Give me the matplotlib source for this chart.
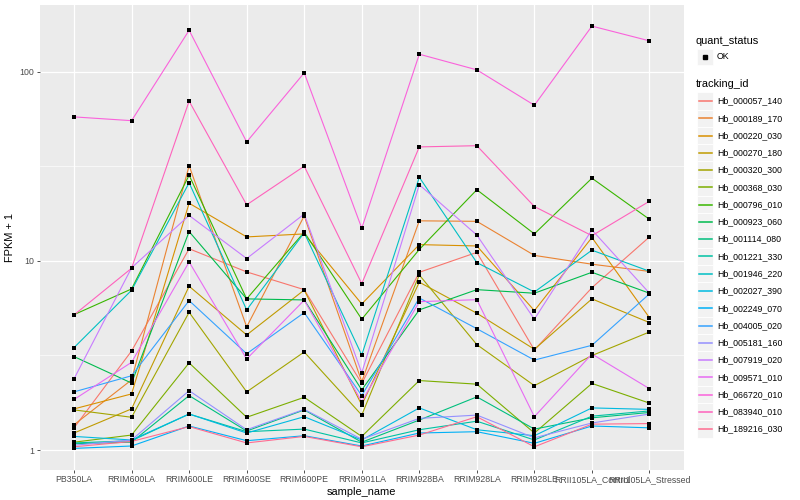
import numpy as np
import matplotlib
matplotlib.use("Agg")
import matplotlib.pyplot as plt
from matplotlib.patches import Rectangle
from matplotlib.ticker import NullFormatter

plt.rcParams["font.family"] = ["Liberation Sans", "DejaVu Sans"]

# ---- data: FPKM + 1 per sample, one list per tracking id ----
samples = ["PB350LA", "RRIM600LA", "RRIM600LE", "RRIM600SE", "RRIM600PE",
           "RRIM901LA", "RRIM928BA", "RRIM928LA", "RRIM928LE",
           "RRII105LA_Control", "RRII105LA_Stressed"]

tracking_ids = ["Hb_000057_140", "Hb_000189_170", "Hb_000220_030", "Hb_000270_180",
                "Hb_000320_300", "Hb_000368_030", "Hb_000796_010", "Hb_000923_060",
                "Hb_001114_080", "Hb_001221_330", "Hb_001946_220", "Hb_002027_390",
                "Hb_002249_070", "Hb_004005_020", "Hb_005181_160", "Hb_007919_020",
                "Hb_009571_010", "Hb_066720_010", "Hb_083940_010", "Hb_189216_030"]

hb_000057_140 = [1.31, 3.34, 11.6, 8.75, 7.05, 2.25, 8.71, 11.1, 3.38, 7.22, 13.4]
hb_000189_170 = [1.36, 2.35, 31.9, 4.48, 17.3, 2.30, 16.3, 16.2, 10.7, 9.61, 8.8]
hb_000220_030 = [1.65, 1.98, 20.2, 13.4, 13.9, 5.92, 12.2, 12.0, 5.46, 13.3, 5.01]
hb_000270_180 = [1.23, 1.65, 7.35, 4.06, 7.02, 1.73, 7.72, 5.29, 3.41, 6.30, 4.72]
hb_000320_300 = [1.63, 1.49, 5.35, 2.03, 3.30, 1.53, 8.43, 3.61, 2.19, 3.16, 4.21]
hb_000368_030 = [1.10, 1.20, 2.89, 1.49, 1.90, 1.18, 2.33, 2.23, 1.23, 2.25, 1.77]
hb_000796_010 = [5.2, 7.11, 28.4, 6.30, 14.2, 4.92, 11.5, 23.8, 13.9, 27.4, 16.6]
hb_000923_060 = [3.12, 2.26, 14.3, 6.3, 6.22, 2.08, 5.51, 7.05, 6.75, 8.71, 6.75]
hb_001114_080 = [1.08, 1.10, 1.94, 1.26, 1.63, 1.10, 1.44, 1.91, 1.29, 1.48, 1.58]
hb_001221_330 = [1.09, 1.12, 1.55, 1.25, 1.29, 1.09, 1.28, 1.42, 1.13, 1.51, 1.61]
hb_001946_220 = [3.48, 7.0, 25.9, 5.51, 14.1, 3.18, 27.7, 9.80, 6.85, 11.4, 8.82]
hb_002027_390 = [1.18, 1.13, 1.55, 1.23, 1.50, 1.13, 1.67, 1.28, 1.19, 1.67, 1.64]
hb_002249_070 = [1.02, 1.05, 1.34, 1.12, 1.19, 1.05, 1.23, 1.25, 1.085, 1.34, 1.31]
hb_004005_020 = [2.03, 2.47, 6.17, 3.23, 5.33, 1.94, 6.37, 4.38, 2.99, 3.58, 6.7]
hb_005181_160 = [1.06, 1.13, 2.06, 1.28, 1.64, 1.14, 1.47, 1.53, 1.16, 1.39, 1.55]
hb_007919_020 = [2.38, 9.2, 17.4, 10.3, 17.7, 2.56, 25.3, 13.7, 4.92, 14.6, 6.75]
hb_009571_010 = [1.85, 2.91, 9.88, 3.03, 6.2, 1.80, 6.09, 6.24, 1.50, 3.22, 2.11]
hb_066720_010 = [57.8, 55.2, 166.0, 42.6, 98.8, 14.9, 124.0, 102.5, 66.6, 174.6, 145.9]
hb_083940_010 = [5.18, 9.15, 70.0, 19.8, 31.7, 7.59, 40.1, 40.7, 19.4, 13.6, 20.7]
hb_189216_030 = [1.04, 1.11, 1.33, 1.09, 1.18, 1.04, 1.20, 1.50, 1.04, 1.37, 1.38]

series = [hb_000057_140, hb_000189_170, hb_000220_030, hb_000270_180, hb_000320_300,
          hb_000368_030, hb_000796_010, hb_000923_060, hb_001114_080, hb_001221_330,
          hb_001946_220, hb_002027_390, hb_002249_070, hb_004005_020, hb_005181_160,
          hb_007919_020, hb_009571_010, hb_066720_010, hb_083940_010, hb_189216_030]

# ggplot default hue palette for 20 levels
palette = ["#F8766D", "#EA8331", "#D89000", "#C09B00", "#A3A500", "#7CAE00",
           "#39B600", "#00BB4E", "#00BF7D", "#00C1A3", "#00BFC4", "#00BAE0",
           "#00B0F6", "#35A2FF", "#9590FF", "#C77CFF", "#E76BF3", "#FA62DB",
           "#FF62BC", "#FF6C91"]

W, H = 800, 500
fig = plt.figure(figsize=(W / 100, H / 100), dpi=100)


def px(x, y):
    """pixel (from top-left) -> figure coords"""
    return x / W, 1 - y / H


ax = fig.add_axes([39.5 / W, 30.5 / H, 644.5 / W, 464.5 / H])
ax.set_facecolor("#EBEBEB")
for s in ax.spines.values():
    s.set_visible(False)

x = np.arange(len(samples))
for vals, col in zip(series, palette):
    ax.plot(x, vals, color=col, lw=0.8, zorder=2)
for vals in series:
    ax.scatter(x, vals, s=8, marker="s", color="black", linewidths=0, zorder=3)

ax.set_yscale("log")
allv = np.concatenate([np.asarray(v) for v in series])
lo, hi = np.log10(allv.min()), np.log10(allv.max())
pad = 0.05 * (hi - lo)
ax.set_ylim(10 ** (lo - pad), 10 ** (hi + pad))
ax.set_xlim(-0.6, len(samples) - 0.4)

ax.set_yticks([1, 10, 100])
ax.set_yticklabels(["1", "10", "100"])
ax.set_yticks([10 ** 0.5, 10 ** 1.5], minor=True)
ax.yaxis.set_minor_formatter(NullFormatter())
ax.set_xticks(x)
ax.set_xticklabels(samples)
ax.tick_params(which="major", length=2, width=0.6, color="#333333",
               labelsize=6.3, labelcolor="#4D4D4D", pad=2)
ax.tick_params(which="minor", length=0)
ax.grid(which="major", color="white", lw=0.9)
ax.grid(which="minor", axis="y", color="white", lw=0.45)
ax.set_axisbelow(True)

ax.set_xlabel("sample_name", fontsize=7.9, labelpad=2)
ax.set_ylabel("FPKM + 1", fontsize=7.9, labelpad=3)

# ---- legends (drawn by hand, ggplot style) ----
tf = fig.transFigure
fig.text(*px(696, 40.7), "quant_status", fontsize=7.9, va="center", ha="left")
kx, kw = 697, 16
fig.patches.append(Rectangle(px(kx, 56.7 + kw / 2), kw / W, kw / H, transform=tf,
                             facecolor="#F2F2F2", edgecolor="white", lw=0.5))
fig.add_artist(plt.Line2D([(kx + kw / 2) / W], [1 - 56.7 / H], marker="s", ms=2.6,
                          color="black", lw=0, transform=tf))
fig.text(*px(717, 56.7), "OK", fontsize=6.3, va="center", ha="left")

fig.text(*px(696, 84.3), "tracking_id", fontsize=7.9, va="center", ha="left")
step = 17.27
for i, (name, col) in enumerate(zip(tracking_ids, palette)):
    yc = 101 + step * i
    fig.patches.append(Rectangle(px(kx, yc + step / 2), kw / W, step / H, transform=tf,
                                 facecolor="#F2F2F2", edgecolor="white", lw=0.6))
    fig.add_artist(plt.Line2D([(kx + 1.5) / W, (kx + kw - 1.5) / W], [1 - yc / H] * 2,
                              color=col, lw=1.1, transform=tf, zorder=5))
    fig.text(*px(717, yc), name, fontsize=6.3, va="center", ha="left")

fig.savefig("out.png", dpi=100)
